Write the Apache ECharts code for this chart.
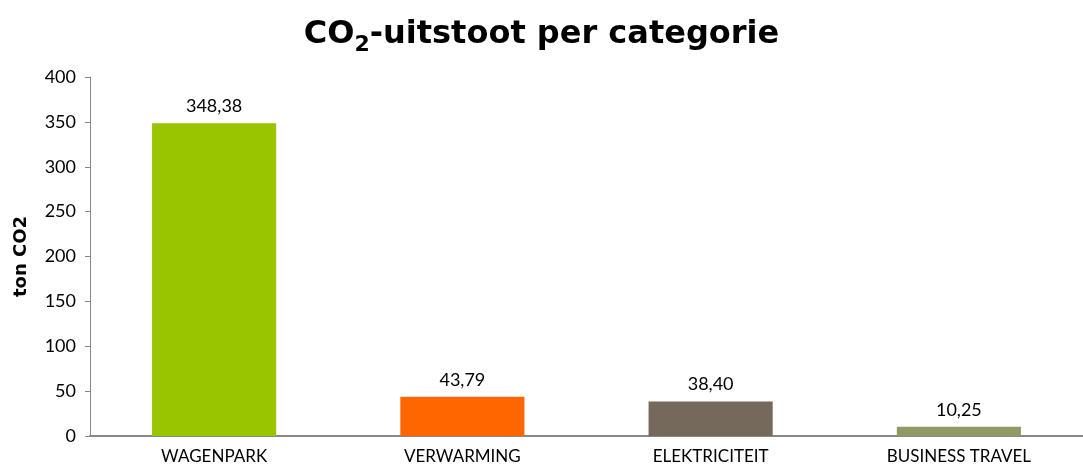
<!DOCTYPE html>
<html>
<head>
<meta charset="utf-8">
<script src="https://cdn.jsdelivr.net/npm/echarts@6/dist/echarts.min.js"></script>
<style>
  html, body { margin: 0; padding: 0; background: #fff; }
  #chart { width: 1083px; height: 469px; }
</style>
</head>
<body>
<div id="chart"></div>
<script>
  const categories = ['WAGENPARK', 'VERWARMING', 'ELEKTRICITEIT', 'BUSINESS TRAVEL']
  const values = [348.38, 43.79, 38.40, 10.25]
  const barColors = ['#99C400', '#FF6600', '#74695A', '#939966']

  const chart = echarts.init(document.getElementById('chart'))
  chart.setOption({
    animation: false,
    textStyle: { fontFamily: 'Lato' },
    title: {
      text: '{a|CO}{s|2}{a|-uitstoot per categorie}',
      left: 'center',
      top: 9,
      textStyle: {
        rich: {
          a: { fontSize: 32, fontWeight: 'bold', color: '#000', fontFamily: 'DejaVu Sans' },
          s: { fontSize: 22, fontWeight: 'bold', color: '#000', fontFamily: 'DejaVu Sans', verticalAlign: 'bottom', padding: [20, 0, 0, 0] }
        }
      }
    },
    grid: { left: 90, width: 1000, top: 77, bottom: 33 },
    xAxis: {
      type: 'category',
      data: categories,
      axisLine: { lineStyle: { color: '#888', width: 2 } },
      axisTick: { length: 6, lineStyle: { color: '#888' } },
      axisLabel: { color: '#000', fontSize: 17, margin: 12 }
    },
    yAxis: {
      type: 'value',
      min: 0,
      max: 400,
      interval: 50,
      name: 'ton CO2',
      nameLocation: 'middle',
      nameGap: 60,
      nameTextStyle: { fontWeight: 'bold', fontSize: 18, color: '#000', fontFamily: 'DejaVu Sans' },
      splitLine: { show: false },
      axisLine: { show: true, lineStyle: { color: '#888', width: 1 } },
      axisTick: { show: true, length: 5, lineStyle: { color: '#888' } },
      axisLabel: { color: '#000', fontSize: 18, margin: 14 }
    },
    series: [{
      type: 'bar',
      barWidth: '50%',
      data: values.map((v, i) => ({ value: v, itemStyle: { color: barColors[i] } })),
      label: {
        show: true,
        position: 'top',
        distance: 8,
        color: '#000',
        fontSize: 18,
        formatter: p => p.value.toFixed(2).replace('.', ',')
      }
    }]
  })
</script>
</body>
</html>
